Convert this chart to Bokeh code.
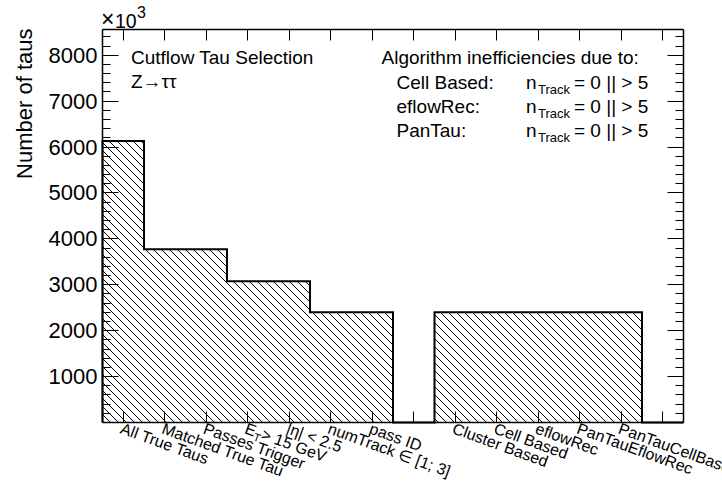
import math
from bokeh.plotting import figure
from bokeh.models import Range1d, FixedTicker, LinearAxis, Label, CustomJSTickFormatter
from bokeh.embed import file_html
from bokeh.resources import INLINE

# ---------------- data ----------------
bin_labels = ["All True Taus", "Matched True Tau", "Passes Trigger", ("E", "T", " > 15 GeV"),
              "|η| < 2.5", "numTrack ∈ [1; 3]", "pass ID", "", "Cluster Based", "Cell Based",
              "eflowRec", "PanTauEflowRec", "PanTauCellBased", ""]
tau_counts = [6130, 3776, 3776, 3074, 3074, 2400, 2400, 0, 2400, 2400, 2400, 2400, 2400, 0]
y_tick_values = [1000, 2000, 3000, 4000, 5000, 6000, 7000, 8000]
y_minor_values = [v for v in range(200, 8600, 200) if v % 1000 != 0]
y_max = 8560
y_title = "Number of taus"
exp_times, exp_base, exp_power = "×", "10", "3"
info_lines = ["Cutflow Tau Selection", "Z→ττ"]
legend_head = "Algorithm inefficiencies due to:"
algorithms = ["Cell Based:", "eflowRec:", "PanTau:"]
cut_main, cut_sub, cut_rest = "n", "Track", "= 0 || > 5"

# ---------------- layout ----------------
FONT = "Liberation Sans"
W, H = 722, 482
FL, FR, FT, FB = 102, 683, 29, 422   # visual frame in pixels
n_bins = len(tau_counts)
kx = (FR - FL) / n_bins          # px per bin
ky = (FB - FT) / y_max           # px per count

def dx(px):
    return (px - FL) / kx

def dy(py):
    return (FB - py) / ky

# the drawing area spans the whole canvas; the ROOT-style frame is built from bounded axes
p = figure(width=W, height=H,
           x_range=Range1d(dx(0), dx(W)), y_range=Range1d(dy(H), dy(0)),
           output_backend="svg", toolbar_location=None,
           x_axis_location=None, y_axis_location=None,
           min_border_left=0, min_border_right=0, min_border_top=0, min_border_bottom=0)
p.xgrid.visible = False
p.ygrid.visible = False
p.outline_line_color = None
p.background_fill_color = "white"
p.border_fill_color = "white"

centers = [i + 0.5 for i in range(n_bins)]

def add_axis(side, loc, ticks, minor, bounds, tick_in, minor_in, show_labels=False):
    ax = LinearAxis(fixed_location=loc, bounds=bounds,
                    ticker=FixedTicker(ticks=ticks, minor_ticks=minor))
    ax.axis_line_color = "black"
    ax.axis_line_width = 1.5
    ax.major_tick_in = tick_in
    ax.major_tick_out = 0
    ax.minor_tick_in = minor_in
    ax.minor_tick_out = 0
    ax.major_tick_line_color = "black"
    ax.minor_tick_line_color = "black"
    ax.major_tick_line_width = 1
    ax.minor_tick_line_width = 1
    if show_labels:
        ax.major_label_text_font = FONT
        ax.major_label_text_font_size = "22px"
        ax.major_label_text_color = "black"
        ax.major_label_standoff = 5
    else:
        ax.formatter = CustomJSTickFormatter(code="return ''")
        ax.major_label_text_font_size = "1px"
    p.add_layout(ax, side)
    return ax

add_axis("below", 0, centers, [], (0, n_bins), 11, 0)
add_axis("above", y_max, centers, [], (0, n_bins), 11, 0)
add_axis("left", 0, y_tick_values, y_minor_values, (0, y_max), 16, 8, show_labels=True)
add_axis("right", n_bins, y_tick_values, y_minor_values, (0, y_max), 16, 8)

# ---------------- histogram ----------------
edges = list(range(n_bins + 1))
p.quad(left=edges[:-1], right=edges[1:], bottom=0, top=tau_counts,
       fill_color="white", fill_alpha=0, line_color=None)

# 45-degree "\" hatching (ROOT fill style), spaced 8 px, clipped to each bin's bar
SP = 8.0
hx0, hy0, hx1, hy1 = [], [], [], []
for i, c in enumerate(tau_counts):
    if c <= 0:
        continue
    # work in pixel-equivalent units: u = x*kx, v = y*ky (v up)
    ul, ur = edges[i] * kx, edges[i + 1] * kx
    vb, vt = 0.0, c * ky
    # lines going down to the right: v = -u + k
    kmin = ul + vb
    kmax = ur + vt
    k = math.ceil(kmin / SP) * SP
    while k <= kmax:
        ua = max(ul, k - vt)
        ub = min(ur, k - vb)
        if ub > ua:
            hx0.append(ua / kx); hy0.append((k - ua) / ky)
            hx1.append(ub / kx); hy1.append((k - ub) / ky)
        k += SP
p.segment(x0=hx0, y0=hy0, x1=hx1, y1=hy1, line_color="black", line_width=1)

xs, ys = [edges[0]], [0]
for i, c in enumerate(tau_counts):
    xs += [edges[i], edges[i + 1]]
    ys += [c, c]
xs.append(edges[-1])
ys.append(0)
p.line(xs, ys, line_color="black", line_width=2, line_join="miter")

# ---------------- text helpers ----------------
BASE_FIX = 0.35   # em; compensates the renderer's alphabetic-baseline placement

def lab(text, x, y, size, angle=0.0, align="left"):
    sh = BASE_FIX * size
    x = x + (-math.sin(angle) * sh) / kx
    y = y + (math.cos(angle) * sh) / ky
    p.add_layout(Label(x=x, y=y, text=text, angle=angle,
                       text_font=FONT, text_font_size=f"{size}px", text_color="black",
                       text_align=align, text_baseline="alphabetic"))

# ---------------- bin labels (rotated down by 20 degrees, start at tick) ----------------
ang = math.radians(20)
ux, uy = math.cos(ang), math.sin(ang)       # along baseline (screen, y down)
dnx, dny = -math.sin(ang), math.cos(ang)    # towards descender (screen, y down)
LS = 16

def put_rot(text, i, ox, oy, size):
    # ox, oy: pixel offsets (screen, y down) from the tick foot
    lab(text, centers[i] + ox / kx, dy(FB + oy), size, -ang)

for i, t in enumerate(bin_labels):
    if not t:
        continue
    ox0, oy0 = -4.0, 10.5
    if isinstance(t, tuple):
        main, sub, rest = t
        put_rot(main, i, ox0, oy0, LS)
        w1 = 0.667 * LS
        put_rot(sub, i, ox0 + w1 * ux + 3.5 * dnx, oy0 + w1 * uy + 3.5 * dny, 11)
        w2 = w1 + 0.611 * 11
        put_rot(rest, i, ox0 + w2 * ux, oy0 + w2 * uy, LS)
    else:
        put_rot(t, i, ox0, oy0, LS)

# ---------------- texts ----------------
lab(y_title, dx(31.5), dy(28), 22, angle=math.pi / 2, align="right")
lab(exp_times, dx(100.5), dy(27), 23)
lab(exp_base, dx(114.5), dy(27), 19.5)
lab(exp_power, dx(136.5), dy(17.5), 16)

for k, t in enumerate(info_lines):
    lab(t, dx(130.5), dy(63.3 + 24.5 * k), 19)

lab(legend_head, dx(381), dy(63.3), 19)
for k, t in enumerate(algorithms):
    yb = 88.3 + 24.2 * k
    lab(t, dx(396), dy(yb), 19)
    lab(cut_main, dx(525.5), dy(yb), 19)
    lab(cut_sub, dx(537.5), dy(yb + 5), 13)
    lab(cut_rest, dx(573.5), dy(yb), 19)

open("out.html", "w").write(file_html(p, INLINE))
